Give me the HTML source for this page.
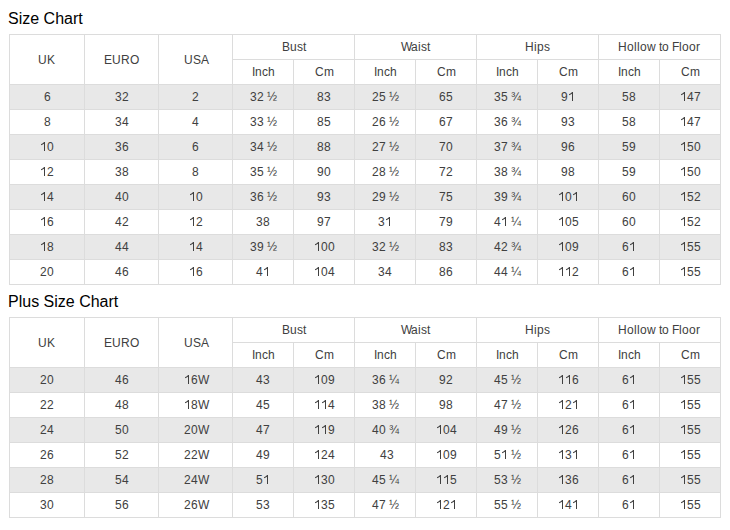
<!DOCTYPE html>
<html><head><meta charset="utf-8"><style>
html,body{margin:0;padding:0;background:#fff;width:730px;height:530px;overflow:hidden;position:relative}
div{position:absolute}
.t{font-family:"Liberation Sans",sans-serif;font-size:12px;color:#404040;white-space:nowrap;font-kerning:none}
i{display:inline-block;font-style:normal}
svg{fill:#404040;vertical-align:baseline}
.h{font-family:"Liberation Sans",sans-serif;font-size:16px;color:#000000;white-space:nowrap;left:8px;line-height:20px}
</style></head><body>
<div class="h" style="top:9px">Size Chart</div>
<div class="h" style="top:292px">Plus Size Chart</div>
<div style="left:10px;top:85px;width:710px;height:24px;background:#e8e8e8"></div><div style="left:10px;top:135px;width:710px;height:24px;background:#e8e8e8"></div><div style="left:10px;top:185px;width:710px;height:24px;background:#e8e8e8"></div><div style="left:10px;top:235px;width:710px;height:24px;background:#e8e8e8"></div><div style="left:9px;top:34px;width:712px;height:1px;background:#dcdcdc"></div><div style="left:232px;top:59px;width:489px;height:1px;background:#dcdcdc"></div><div style="left:9px;top:84px;width:712px;height:1px;background:#dcdcdc"></div><div style="left:9px;top:109px;width:712px;height:1px;background:#dcdcdc"></div><div style="left:9px;top:134px;width:712px;height:1px;background:#dcdcdc"></div><div style="left:9px;top:159px;width:712px;height:1px;background:#dcdcdc"></div><div style="left:9px;top:184px;width:712px;height:1px;background:#dcdcdc"></div><div style="left:9px;top:209px;width:712px;height:1px;background:#dcdcdc"></div><div style="left:9px;top:234px;width:712px;height:1px;background:#dcdcdc"></div><div style="left:9px;top:259px;width:712px;height:1px;background:#dcdcdc"></div><div style="left:9px;top:284px;width:712px;height:1px;background:#dcdcdc"></div><div style="left:9px;top:34px;width:1px;height:251px;background:#dcdcdc"></div><div style="left:84px;top:34px;width:1px;height:251px;background:#dcdcdc"></div><div style="left:158px;top:34px;width:1px;height:251px;background:#dcdcdc"></div><div style="left:232px;top:34px;width:1px;height:251px;background:#dcdcdc"></div><div style="left:293px;top:59px;width:1px;height:226px;background:#dcdcdc"></div><div style="left:354px;top:34px;width:1px;height:251px;background:#dcdcdc"></div><div style="left:415px;top:59px;width:1px;height:226px;background:#dcdcdc"></div><div style="left:476px;top:34px;width:1px;height:251px;background:#dcdcdc"></div><div style="left:537px;top:59px;width:1px;height:226px;background:#dcdcdc"></div><div style="left:598px;top:34px;width:1px;height:251px;background:#dcdcdc"></div><div style="left:659px;top:59px;width:1px;height:226px;background:#dcdcdc"></div><div style="left:720px;top:34px;width:1px;height:251px;background:#dcdcdc"></div><div class="t" style="left:38px;top:36px;height:49px;line-height:49px"><i style="width:9px">U</i><i style="width:9px">K</i></div><div class="t" style="left:104px;top:36px;height:49px;line-height:49px"><i style="width:8px">E</i><i style="width:9px">U</i><i style="width:9px">R</i><i style="width:9px">O</i></div><div class="t" style="left:184px;top:36px;height:49px;line-height:49px"><i style="width:9px">U</i><i style="width:8px">S</i><i style="width:8px">A</i></div><div class="t" style="left:282px;top:35px;height:24px;line-height:24px"><i style="width:8px">B</i><i style="width:7px">u</i><i style="width:6px">s</i><i style="width:3px">t</i></div><div class="t" style="left:252px;top:60px;height:24px;line-height:24px"><i style="width:3px">I</i><i style="width:7px">n</i><i style="width:6px">c</i><i style="width:7px">h</i></div><div class="t" style="left:315px;top:60px;height:24px;line-height:24px"><i style="width:9px">C</i><i style="width:10px">m</i></div><div class="t" style="left:401px;top:35px;height:24px;line-height:24px"><i style="width:10px">W</i><i style="width:7px">a</i><i style="width:3px">i</i><i style="width:6px">s</i><i style="width:3px">t</i></div><div class="t" style="left:374px;top:60px;height:24px;line-height:24px"><i style="width:3px">I</i><i style="width:7px">n</i><i style="width:6px">c</i><i style="width:7px">h</i></div><div class="t" style="left:437px;top:60px;height:24px;line-height:24px"><i style="width:9px">C</i><i style="width:10px">m</i></div><div class="t" style="left:525px;top:35px;height:24px;line-height:24px"><i style="width:9px">H</i><i style="width:3px">i</i><i style="width:7px">p</i><i style="width:6px">s</i></div><div class="t" style="left:496px;top:60px;height:24px;line-height:24px"><i style="width:3px">I</i><i style="width:7px">n</i><i style="width:6px">c</i><i style="width:7px">h</i></div><div class="t" style="left:559px;top:60px;height:24px;line-height:24px"><i style="width:9px">C</i><i style="width:10px">m</i></div><div class="t" style="left:618px;top:35px;height:24px;line-height:24px"><i style="width:9px">H</i><i style="width:7px">o</i><i style="width:3px">l</i><i style="width:3px">l</i><i style="width:7px">o</i><i style="width:9px">w</i><i style="width:3px">&nbsp;</i><i style="width:3px">t</i><i style="width:7px">o</i><i style="width:3px">&nbsp;</i><i style="width:7px">F</i><i style="width:3px">l</i><i style="width:7px">o</i><i style="width:7px">o</i><i style="width:4px">r</i></div><div class="t" style="left:618px;top:60px;height:24px;line-height:24px"><i style="width:3px">I</i><i style="width:7px">n</i><i style="width:6px">c</i><i style="width:7px">h</i></div><div class="t" style="left:681px;top:60px;height:24px;line-height:24px"><i style="width:9px">C</i><i style="width:10px">m</i></div><div class="t" style="left:44px;top:85px;height:24px;line-height:24px"><i style="width:7px">6</i></div><div class="t" style="left:115px;top:85px;height:24px;line-height:24px"><i style="width:7px">3</i><i style="width:7px">2</i></div><div class="t" style="left:192px;top:85px;height:24px;line-height:24px"><i style="width:7px">2</i></div><div class="t" style="left:250px;top:85px;height:24px;line-height:24px"><i style="width:7px">3</i><i style="width:7px">2</i><i style="width:3px">&nbsp;</i><i style="width:10px">½</i></div><div class="t" style="left:317px;top:85px;height:24px;line-height:24px"><i style="width:7px">8</i><i style="width:7px">3</i></div><div class="t" style="left:372px;top:85px;height:24px;line-height:24px"><i style="width:7px">2</i><i style="width:7px">5</i><i style="width:3px">&nbsp;</i><i style="width:10px">½</i></div><div class="t" style="left:439px;top:85px;height:24px;line-height:24px"><i style="width:7px">6</i><i style="width:7px">5</i></div><div class="t" style="left:494px;top:85px;height:24px;line-height:24px"><i style="width:7px">3</i><i style="width:7px">5</i><i style="width:3px">&nbsp;</i><i style="width:10px">¾</i></div><div class="t" style="left:561px;top:85px;height:24px;line-height:24px"><i style="width:7px">9</i><i style="width:7px"><svg width="7" height="10" viewBox="0 -1707 1195 1707"><path transform="scale(1,-1)" d="M854 0H683V1250Q520 1110 171 990V1160Q520 1300 700 1536H854Z"/></svg></i></div><div class="t" style="left:622px;top:85px;height:24px;line-height:24px"><i style="width:7px">5</i><i style="width:7px">8</i></div><div class="t" style="left:680px;top:85px;height:24px;line-height:24px"><i style="width:7px"><svg width="7" height="10" viewBox="0 -1707 1195 1707"><path transform="scale(1,-1)" d="M854 0H683V1250Q520 1110 171 990V1160Q520 1300 700 1536H854Z"/></svg></i><i style="width:7px">4</i><i style="width:7px">7</i></div><div class="t" style="left:44px;top:110px;height:24px;line-height:24px"><i style="width:7px">8</i></div><div class="t" style="left:115px;top:110px;height:24px;line-height:24px"><i style="width:7px">3</i><i style="width:7px">4</i></div><div class="t" style="left:192px;top:110px;height:24px;line-height:24px"><i style="width:7px">4</i></div><div class="t" style="left:250px;top:110px;height:24px;line-height:24px"><i style="width:7px">3</i><i style="width:7px">3</i><i style="width:3px">&nbsp;</i><i style="width:10px">½</i></div><div class="t" style="left:317px;top:110px;height:24px;line-height:24px"><i style="width:7px">8</i><i style="width:7px">5</i></div><div class="t" style="left:372px;top:110px;height:24px;line-height:24px"><i style="width:7px">2</i><i style="width:7px">6</i><i style="width:3px">&nbsp;</i><i style="width:10px">½</i></div><div class="t" style="left:439px;top:110px;height:24px;line-height:24px"><i style="width:7px">6</i><i style="width:7px">7</i></div><div class="t" style="left:494px;top:110px;height:24px;line-height:24px"><i style="width:7px">3</i><i style="width:7px">6</i><i style="width:3px">&nbsp;</i><i style="width:10px">¾</i></div><div class="t" style="left:561px;top:110px;height:24px;line-height:24px"><i style="width:7px">9</i><i style="width:7px">3</i></div><div class="t" style="left:622px;top:110px;height:24px;line-height:24px"><i style="width:7px">5</i><i style="width:7px">8</i></div><div class="t" style="left:680px;top:110px;height:24px;line-height:24px"><i style="width:7px"><svg width="7" height="10" viewBox="0 -1707 1195 1707"><path transform="scale(1,-1)" d="M854 0H683V1250Q520 1110 171 990V1160Q520 1300 700 1536H854Z"/></svg></i><i style="width:7px">4</i><i style="width:7px">7</i></div><div class="t" style="left:40px;top:135px;height:24px;line-height:24px"><i style="width:7px"><svg width="7" height="10" viewBox="0 -1707 1195 1707"><path transform="scale(1,-1)" d="M854 0H683V1250Q520 1110 171 990V1160Q520 1300 700 1536H854Z"/></svg></i><i style="width:7px">0</i></div><div class="t" style="left:115px;top:135px;height:24px;line-height:24px"><i style="width:7px">3</i><i style="width:7px">6</i></div><div class="t" style="left:192px;top:135px;height:24px;line-height:24px"><i style="width:7px">6</i></div><div class="t" style="left:250px;top:135px;height:24px;line-height:24px"><i style="width:7px">3</i><i style="width:7px">4</i><i style="width:3px">&nbsp;</i><i style="width:10px">½</i></div><div class="t" style="left:317px;top:135px;height:24px;line-height:24px"><i style="width:7px">8</i><i style="width:7px">8</i></div><div class="t" style="left:372px;top:135px;height:24px;line-height:24px"><i style="width:7px">2</i><i style="width:7px">7</i><i style="width:3px">&nbsp;</i><i style="width:10px">½</i></div><div class="t" style="left:439px;top:135px;height:24px;line-height:24px"><i style="width:7px">7</i><i style="width:7px">0</i></div><div class="t" style="left:494px;top:135px;height:24px;line-height:24px"><i style="width:7px">3</i><i style="width:7px">7</i><i style="width:3px">&nbsp;</i><i style="width:10px">¾</i></div><div class="t" style="left:561px;top:135px;height:24px;line-height:24px"><i style="width:7px">9</i><i style="width:7px">6</i></div><div class="t" style="left:622px;top:135px;height:24px;line-height:24px"><i style="width:7px">5</i><i style="width:7px">9</i></div><div class="t" style="left:680px;top:135px;height:24px;line-height:24px"><i style="width:7px"><svg width="7" height="10" viewBox="0 -1707 1195 1707"><path transform="scale(1,-1)" d="M854 0H683V1250Q520 1110 171 990V1160Q520 1300 700 1536H854Z"/></svg></i><i style="width:7px">5</i><i style="width:7px">0</i></div><div class="t" style="left:40px;top:160px;height:24px;line-height:24px"><i style="width:7px"><svg width="7" height="10" viewBox="0 -1707 1195 1707"><path transform="scale(1,-1)" d="M854 0H683V1250Q520 1110 171 990V1160Q520 1300 700 1536H854Z"/></svg></i><i style="width:7px">2</i></div><div class="t" style="left:115px;top:160px;height:24px;line-height:24px"><i style="width:7px">3</i><i style="width:7px">8</i></div><div class="t" style="left:192px;top:160px;height:24px;line-height:24px"><i style="width:7px">8</i></div><div class="t" style="left:250px;top:160px;height:24px;line-height:24px"><i style="width:7px">3</i><i style="width:7px">5</i><i style="width:3px">&nbsp;</i><i style="width:10px">½</i></div><div class="t" style="left:317px;top:160px;height:24px;line-height:24px"><i style="width:7px">9</i><i style="width:7px">0</i></div><div class="t" style="left:372px;top:160px;height:24px;line-height:24px"><i style="width:7px">2</i><i style="width:7px">8</i><i style="width:3px">&nbsp;</i><i style="width:10px">½</i></div><div class="t" style="left:439px;top:160px;height:24px;line-height:24px"><i style="width:7px">7</i><i style="width:7px">2</i></div><div class="t" style="left:494px;top:160px;height:24px;line-height:24px"><i style="width:7px">3</i><i style="width:7px">8</i><i style="width:3px">&nbsp;</i><i style="width:10px">¾</i></div><div class="t" style="left:561px;top:160px;height:24px;line-height:24px"><i style="width:7px">9</i><i style="width:7px">8</i></div><div class="t" style="left:622px;top:160px;height:24px;line-height:24px"><i style="width:7px">5</i><i style="width:7px">9</i></div><div class="t" style="left:680px;top:160px;height:24px;line-height:24px"><i style="width:7px"><svg width="7" height="10" viewBox="0 -1707 1195 1707"><path transform="scale(1,-1)" d="M854 0H683V1250Q520 1110 171 990V1160Q520 1300 700 1536H854Z"/></svg></i><i style="width:7px">5</i><i style="width:7px">0</i></div><div class="t" style="left:40px;top:185px;height:24px;line-height:24px"><i style="width:7px"><svg width="7" height="10" viewBox="0 -1707 1195 1707"><path transform="scale(1,-1)" d="M854 0H683V1250Q520 1110 171 990V1160Q520 1300 700 1536H854Z"/></svg></i><i style="width:7px">4</i></div><div class="t" style="left:115px;top:185px;height:24px;line-height:24px"><i style="width:7px">4</i><i style="width:7px">0</i></div><div class="t" style="left:189px;top:185px;height:24px;line-height:24px"><i style="width:7px"><svg width="7" height="10" viewBox="0 -1707 1195 1707"><path transform="scale(1,-1)" d="M854 0H683V1250Q520 1110 171 990V1160Q520 1300 700 1536H854Z"/></svg></i><i style="width:7px">0</i></div><div class="t" style="left:250px;top:185px;height:24px;line-height:24px"><i style="width:7px">3</i><i style="width:7px">6</i><i style="width:3px">&nbsp;</i><i style="width:10px">½</i></div><div class="t" style="left:317px;top:185px;height:24px;line-height:24px"><i style="width:7px">9</i><i style="width:7px">3</i></div><div class="t" style="left:372px;top:185px;height:24px;line-height:24px"><i style="width:7px">2</i><i style="width:7px">9</i><i style="width:3px">&nbsp;</i><i style="width:10px">½</i></div><div class="t" style="left:439px;top:185px;height:24px;line-height:24px"><i style="width:7px">7</i><i style="width:7px">5</i></div><div class="t" style="left:494px;top:185px;height:24px;line-height:24px"><i style="width:7px">3</i><i style="width:7px">9</i><i style="width:3px">&nbsp;</i><i style="width:10px">¾</i></div><div class="t" style="left:558px;top:185px;height:24px;line-height:24px"><i style="width:7px"><svg width="7" height="10" viewBox="0 -1707 1195 1707"><path transform="scale(1,-1)" d="M854 0H683V1250Q520 1110 171 990V1160Q520 1300 700 1536H854Z"/></svg></i><i style="width:7px">0</i><i style="width:7px"><svg width="7" height="10" viewBox="0 -1707 1195 1707"><path transform="scale(1,-1)" d="M854 0H683V1250Q520 1110 171 990V1160Q520 1300 700 1536H854Z"/></svg></i></div><div class="t" style="left:622px;top:185px;height:24px;line-height:24px"><i style="width:7px">6</i><i style="width:7px">0</i></div><div class="t" style="left:680px;top:185px;height:24px;line-height:24px"><i style="width:7px"><svg width="7" height="10" viewBox="0 -1707 1195 1707"><path transform="scale(1,-1)" d="M854 0H683V1250Q520 1110 171 990V1160Q520 1300 700 1536H854Z"/></svg></i><i style="width:7px">5</i><i style="width:7px">2</i></div><div class="t" style="left:40px;top:210px;height:24px;line-height:24px"><i style="width:7px"><svg width="7" height="10" viewBox="0 -1707 1195 1707"><path transform="scale(1,-1)" d="M854 0H683V1250Q520 1110 171 990V1160Q520 1300 700 1536H854Z"/></svg></i><i style="width:7px">6</i></div><div class="t" style="left:115px;top:210px;height:24px;line-height:24px"><i style="width:7px">4</i><i style="width:7px">2</i></div><div class="t" style="left:189px;top:210px;height:24px;line-height:24px"><i style="width:7px"><svg width="7" height="10" viewBox="0 -1707 1195 1707"><path transform="scale(1,-1)" d="M854 0H683V1250Q520 1110 171 990V1160Q520 1300 700 1536H854Z"/></svg></i><i style="width:7px">2</i></div><div class="t" style="left:256px;top:210px;height:24px;line-height:24px"><i style="width:7px">3</i><i style="width:7px">8</i></div><div class="t" style="left:317px;top:210px;height:24px;line-height:24px"><i style="width:7px">9</i><i style="width:7px">7</i></div><div class="t" style="left:378px;top:210px;height:24px;line-height:24px"><i style="width:7px">3</i><i style="width:7px"><svg width="7" height="10" viewBox="0 -1707 1195 1707"><path transform="scale(1,-1)" d="M854 0H683V1250Q520 1110 171 990V1160Q520 1300 700 1536H854Z"/></svg></i></div><div class="t" style="left:439px;top:210px;height:24px;line-height:24px"><i style="width:7px">7</i><i style="width:7px">9</i></div><div class="t" style="left:494px;top:210px;height:24px;line-height:24px"><i style="width:7px">4</i><i style="width:7px"><svg width="7" height="10" viewBox="0 -1707 1195 1707"><path transform="scale(1,-1)" d="M854 0H683V1250Q520 1110 171 990V1160Q520 1300 700 1536H854Z"/></svg></i><i style="width:3px">&nbsp;</i><i style="width:10px">¼</i></div><div class="t" style="left:558px;top:210px;height:24px;line-height:24px"><i style="width:7px"><svg width="7" height="10" viewBox="0 -1707 1195 1707"><path transform="scale(1,-1)" d="M854 0H683V1250Q520 1110 171 990V1160Q520 1300 700 1536H854Z"/></svg></i><i style="width:7px">0</i><i style="width:7px">5</i></div><div class="t" style="left:622px;top:210px;height:24px;line-height:24px"><i style="width:7px">6</i><i style="width:7px">0</i></div><div class="t" style="left:680px;top:210px;height:24px;line-height:24px"><i style="width:7px"><svg width="7" height="10" viewBox="0 -1707 1195 1707"><path transform="scale(1,-1)" d="M854 0H683V1250Q520 1110 171 990V1160Q520 1300 700 1536H854Z"/></svg></i><i style="width:7px">5</i><i style="width:7px">2</i></div><div class="t" style="left:40px;top:235px;height:24px;line-height:24px"><i style="width:7px"><svg width="7" height="10" viewBox="0 -1707 1195 1707"><path transform="scale(1,-1)" d="M854 0H683V1250Q520 1110 171 990V1160Q520 1300 700 1536H854Z"/></svg></i><i style="width:7px">8</i></div><div class="t" style="left:115px;top:235px;height:24px;line-height:24px"><i style="width:7px">4</i><i style="width:7px">4</i></div><div class="t" style="left:189px;top:235px;height:24px;line-height:24px"><i style="width:7px"><svg width="7" height="10" viewBox="0 -1707 1195 1707"><path transform="scale(1,-1)" d="M854 0H683V1250Q520 1110 171 990V1160Q520 1300 700 1536H854Z"/></svg></i><i style="width:7px">4</i></div><div class="t" style="left:250px;top:235px;height:24px;line-height:24px"><i style="width:7px">3</i><i style="width:7px">9</i><i style="width:3px">&nbsp;</i><i style="width:10px">½</i></div><div class="t" style="left:314px;top:235px;height:24px;line-height:24px"><i style="width:7px"><svg width="7" height="10" viewBox="0 -1707 1195 1707"><path transform="scale(1,-1)" d="M854 0H683V1250Q520 1110 171 990V1160Q520 1300 700 1536H854Z"/></svg></i><i style="width:7px">0</i><i style="width:7px">0</i></div><div class="t" style="left:372px;top:235px;height:24px;line-height:24px"><i style="width:7px">3</i><i style="width:7px">2</i><i style="width:3px">&nbsp;</i><i style="width:10px">½</i></div><div class="t" style="left:439px;top:235px;height:24px;line-height:24px"><i style="width:7px">8</i><i style="width:7px">3</i></div><div class="t" style="left:494px;top:235px;height:24px;line-height:24px"><i style="width:7px">4</i><i style="width:7px">2</i><i style="width:3px">&nbsp;</i><i style="width:10px">¾</i></div><div class="t" style="left:558px;top:235px;height:24px;line-height:24px"><i style="width:7px"><svg width="7" height="10" viewBox="0 -1707 1195 1707"><path transform="scale(1,-1)" d="M854 0H683V1250Q520 1110 171 990V1160Q520 1300 700 1536H854Z"/></svg></i><i style="width:7px">0</i><i style="width:7px">9</i></div><div class="t" style="left:622px;top:235px;height:24px;line-height:24px"><i style="width:7px">6</i><i style="width:7px"><svg width="7" height="10" viewBox="0 -1707 1195 1707"><path transform="scale(1,-1)" d="M854 0H683V1250Q520 1110 171 990V1160Q520 1300 700 1536H854Z"/></svg></i></div><div class="t" style="left:680px;top:235px;height:24px;line-height:24px"><i style="width:7px"><svg width="7" height="10" viewBox="0 -1707 1195 1707"><path transform="scale(1,-1)" d="M854 0H683V1250Q520 1110 171 990V1160Q520 1300 700 1536H854Z"/></svg></i><i style="width:7px">5</i><i style="width:7px">5</i></div><div class="t" style="left:40px;top:260px;height:24px;line-height:24px"><i style="width:7px">2</i><i style="width:7px">0</i></div><div class="t" style="left:115px;top:260px;height:24px;line-height:24px"><i style="width:7px">4</i><i style="width:7px">6</i></div><div class="t" style="left:189px;top:260px;height:24px;line-height:24px"><i style="width:7px"><svg width="7" height="10" viewBox="0 -1707 1195 1707"><path transform="scale(1,-1)" d="M854 0H683V1250Q520 1110 171 990V1160Q520 1300 700 1536H854Z"/></svg></i><i style="width:7px">6</i></div><div class="t" style="left:256px;top:260px;height:24px;line-height:24px"><i style="width:7px">4</i><i style="width:7px"><svg width="7" height="10" viewBox="0 -1707 1195 1707"><path transform="scale(1,-1)" d="M854 0H683V1250Q520 1110 171 990V1160Q520 1300 700 1536H854Z"/></svg></i></div><div class="t" style="left:314px;top:260px;height:24px;line-height:24px"><i style="width:7px"><svg width="7" height="10" viewBox="0 -1707 1195 1707"><path transform="scale(1,-1)" d="M854 0H683V1250Q520 1110 171 990V1160Q520 1300 700 1536H854Z"/></svg></i><i style="width:7px">0</i><i style="width:7px">4</i></div><div class="t" style="left:378px;top:260px;height:24px;line-height:24px"><i style="width:7px">3</i><i style="width:7px">4</i></div><div class="t" style="left:439px;top:260px;height:24px;line-height:24px"><i style="width:7px">8</i><i style="width:7px">6</i></div><div class="t" style="left:494px;top:260px;height:24px;line-height:24px"><i style="width:7px">4</i><i style="width:7px">4</i><i style="width:3px">&nbsp;</i><i style="width:10px">¼</i></div><div class="t" style="left:558px;top:260px;height:24px;line-height:24px"><i style="width:7px"><svg width="7" height="10" viewBox="0 -1707 1195 1707"><path transform="scale(1,-1)" d="M854 0H683V1250Q520 1110 171 990V1160Q520 1300 700 1536H854Z"/></svg></i><i style="width:7px"><svg width="7" height="10" viewBox="0 -1707 1195 1707"><path transform="scale(1,-1)" d="M854 0H683V1250Q520 1110 171 990V1160Q520 1300 700 1536H854Z"/></svg></i><i style="width:7px">2</i></div><div class="t" style="left:622px;top:260px;height:24px;line-height:24px"><i style="width:7px">6</i><i style="width:7px"><svg width="7" height="10" viewBox="0 -1707 1195 1707"><path transform="scale(1,-1)" d="M854 0H683V1250Q520 1110 171 990V1160Q520 1300 700 1536H854Z"/></svg></i></div><div class="t" style="left:680px;top:260px;height:24px;line-height:24px"><i style="width:7px"><svg width="7" height="10" viewBox="0 -1707 1195 1707"><path transform="scale(1,-1)" d="M854 0H683V1250Q520 1110 171 990V1160Q520 1300 700 1536H854Z"/></svg></i><i style="width:7px">5</i><i style="width:7px">5</i></div><div style="left:10px;top:368px;width:710px;height:24px;background:#e8e8e8"></div><div style="left:10px;top:418px;width:710px;height:24px;background:#e8e8e8"></div><div style="left:10px;top:468px;width:710px;height:24px;background:#e8e8e8"></div><div style="left:9px;top:317px;width:712px;height:1px;background:#dcdcdc"></div><div style="left:232px;top:342px;width:489px;height:1px;background:#dcdcdc"></div><div style="left:9px;top:367px;width:712px;height:1px;background:#dcdcdc"></div><div style="left:9px;top:392px;width:712px;height:1px;background:#dcdcdc"></div><div style="left:9px;top:417px;width:712px;height:1px;background:#dcdcdc"></div><div style="left:9px;top:442px;width:712px;height:1px;background:#dcdcdc"></div><div style="left:9px;top:467px;width:712px;height:1px;background:#dcdcdc"></div><div style="left:9px;top:492px;width:712px;height:1px;background:#dcdcdc"></div><div style="left:9px;top:517px;width:712px;height:1px;background:#dcdcdc"></div><div style="left:9px;top:317px;width:1px;height:201px;background:#dcdcdc"></div><div style="left:84px;top:317px;width:1px;height:201px;background:#dcdcdc"></div><div style="left:158px;top:317px;width:1px;height:201px;background:#dcdcdc"></div><div style="left:232px;top:317px;width:1px;height:201px;background:#dcdcdc"></div><div style="left:293px;top:342px;width:1px;height:176px;background:#dcdcdc"></div><div style="left:354px;top:317px;width:1px;height:201px;background:#dcdcdc"></div><div style="left:415px;top:342px;width:1px;height:176px;background:#dcdcdc"></div><div style="left:476px;top:317px;width:1px;height:201px;background:#dcdcdc"></div><div style="left:537px;top:342px;width:1px;height:176px;background:#dcdcdc"></div><div style="left:598px;top:317px;width:1px;height:201px;background:#dcdcdc"></div><div style="left:659px;top:342px;width:1px;height:176px;background:#dcdcdc"></div><div style="left:720px;top:317px;width:1px;height:201px;background:#dcdcdc"></div><div class="t" style="left:38px;top:319px;height:49px;line-height:49px"><i style="width:9px">U</i><i style="width:9px">K</i></div><div class="t" style="left:104px;top:319px;height:49px;line-height:49px"><i style="width:8px">E</i><i style="width:9px">U</i><i style="width:9px">R</i><i style="width:9px">O</i></div><div class="t" style="left:184px;top:319px;height:49px;line-height:49px"><i style="width:9px">U</i><i style="width:8px">S</i><i style="width:8px">A</i></div><div class="t" style="left:282px;top:318px;height:24px;line-height:24px"><i style="width:8px">B</i><i style="width:7px">u</i><i style="width:6px">s</i><i style="width:3px">t</i></div><div class="t" style="left:252px;top:343px;height:24px;line-height:24px"><i style="width:3px">I</i><i style="width:7px">n</i><i style="width:6px">c</i><i style="width:7px">h</i></div><div class="t" style="left:315px;top:343px;height:24px;line-height:24px"><i style="width:9px">C</i><i style="width:10px">m</i></div><div class="t" style="left:401px;top:318px;height:24px;line-height:24px"><i style="width:10px">W</i><i style="width:7px">a</i><i style="width:3px">i</i><i style="width:6px">s</i><i style="width:3px">t</i></div><div class="t" style="left:374px;top:343px;height:24px;line-height:24px"><i style="width:3px">I</i><i style="width:7px">n</i><i style="width:6px">c</i><i style="width:7px">h</i></div><div class="t" style="left:437px;top:343px;height:24px;line-height:24px"><i style="width:9px">C</i><i style="width:10px">m</i></div><div class="t" style="left:525px;top:318px;height:24px;line-height:24px"><i style="width:9px">H</i><i style="width:3px">i</i><i style="width:7px">p</i><i style="width:6px">s</i></div><div class="t" style="left:496px;top:343px;height:24px;line-height:24px"><i style="width:3px">I</i><i style="width:7px">n</i><i style="width:6px">c</i><i style="width:7px">h</i></div><div class="t" style="left:559px;top:343px;height:24px;line-height:24px"><i style="width:9px">C</i><i style="width:10px">m</i></div><div class="t" style="left:618px;top:318px;height:24px;line-height:24px"><i style="width:9px">H</i><i style="width:7px">o</i><i style="width:3px">l</i><i style="width:3px">l</i><i style="width:7px">o</i><i style="width:9px">w</i><i style="width:3px">&nbsp;</i><i style="width:3px">t</i><i style="width:7px">o</i><i style="width:3px">&nbsp;</i><i style="width:7px">F</i><i style="width:3px">l</i><i style="width:7px">o</i><i style="width:7px">o</i><i style="width:4px">r</i></div><div class="t" style="left:618px;top:343px;height:24px;line-height:24px"><i style="width:3px">I</i><i style="width:7px">n</i><i style="width:6px">c</i><i style="width:7px">h</i></div><div class="t" style="left:681px;top:343px;height:24px;line-height:24px"><i style="width:9px">C</i><i style="width:10px">m</i></div><div class="t" style="left:40px;top:368px;height:24px;line-height:24px"><i style="width:7px">2</i><i style="width:7px">0</i></div><div class="t" style="left:115px;top:368px;height:24px;line-height:24px"><i style="width:7px">4</i><i style="width:7px">6</i></div><div class="t" style="left:184px;top:368px;height:24px;line-height:24px"><i style="width:7px"><svg width="7" height="10" viewBox="0 -1707 1195 1707"><path transform="scale(1,-1)" d="M854 0H683V1250Q520 1110 171 990V1160Q520 1300 700 1536H854Z"/></svg></i><i style="width:7px">6</i><i style="width:10px">W</i></div><div class="t" style="left:256px;top:368px;height:24px;line-height:24px"><i style="width:7px">4</i><i style="width:7px">3</i></div><div class="t" style="left:314px;top:368px;height:24px;line-height:24px"><i style="width:7px"><svg width="7" height="10" viewBox="0 -1707 1195 1707"><path transform="scale(1,-1)" d="M854 0H683V1250Q520 1110 171 990V1160Q520 1300 700 1536H854Z"/></svg></i><i style="width:7px">0</i><i style="width:7px">9</i></div><div class="t" style="left:372px;top:368px;height:24px;line-height:24px"><i style="width:7px">3</i><i style="width:7px">6</i><i style="width:3px">&nbsp;</i><i style="width:10px">¼</i></div><div class="t" style="left:439px;top:368px;height:24px;line-height:24px"><i style="width:7px">9</i><i style="width:7px">2</i></div><div class="t" style="left:494px;top:368px;height:24px;line-height:24px"><i style="width:7px">4</i><i style="width:7px">5</i><i style="width:3px">&nbsp;</i><i style="width:10px">½</i></div><div class="t" style="left:558px;top:368px;height:24px;line-height:24px"><i style="width:7px"><svg width="7" height="10" viewBox="0 -1707 1195 1707"><path transform="scale(1,-1)" d="M854 0H683V1250Q520 1110 171 990V1160Q520 1300 700 1536H854Z"/></svg></i><i style="width:7px"><svg width="7" height="10" viewBox="0 -1707 1195 1707"><path transform="scale(1,-1)" d="M854 0H683V1250Q520 1110 171 990V1160Q520 1300 700 1536H854Z"/></svg></i><i style="width:7px">6</i></div><div class="t" style="left:622px;top:368px;height:24px;line-height:24px"><i style="width:7px">6</i><i style="width:7px"><svg width="7" height="10" viewBox="0 -1707 1195 1707"><path transform="scale(1,-1)" d="M854 0H683V1250Q520 1110 171 990V1160Q520 1300 700 1536H854Z"/></svg></i></div><div class="t" style="left:680px;top:368px;height:24px;line-height:24px"><i style="width:7px"><svg width="7" height="10" viewBox="0 -1707 1195 1707"><path transform="scale(1,-1)" d="M854 0H683V1250Q520 1110 171 990V1160Q520 1300 700 1536H854Z"/></svg></i><i style="width:7px">5</i><i style="width:7px">5</i></div><div class="t" style="left:40px;top:393px;height:24px;line-height:24px"><i style="width:7px">2</i><i style="width:7px">2</i></div><div class="t" style="left:115px;top:393px;height:24px;line-height:24px"><i style="width:7px">4</i><i style="width:7px">8</i></div><div class="t" style="left:184px;top:393px;height:24px;line-height:24px"><i style="width:7px"><svg width="7" height="10" viewBox="0 -1707 1195 1707"><path transform="scale(1,-1)" d="M854 0H683V1250Q520 1110 171 990V1160Q520 1300 700 1536H854Z"/></svg></i><i style="width:7px">8</i><i style="width:10px">W</i></div><div class="t" style="left:256px;top:393px;height:24px;line-height:24px"><i style="width:7px">4</i><i style="width:7px">5</i></div><div class="t" style="left:314px;top:393px;height:24px;line-height:24px"><i style="width:7px"><svg width="7" height="10" viewBox="0 -1707 1195 1707"><path transform="scale(1,-1)" d="M854 0H683V1250Q520 1110 171 990V1160Q520 1300 700 1536H854Z"/></svg></i><i style="width:7px"><svg width="7" height="10" viewBox="0 -1707 1195 1707"><path transform="scale(1,-1)" d="M854 0H683V1250Q520 1110 171 990V1160Q520 1300 700 1536H854Z"/></svg></i><i style="width:7px">4</i></div><div class="t" style="left:372px;top:393px;height:24px;line-height:24px"><i style="width:7px">3</i><i style="width:7px">8</i><i style="width:3px">&nbsp;</i><i style="width:10px">½</i></div><div class="t" style="left:439px;top:393px;height:24px;line-height:24px"><i style="width:7px">9</i><i style="width:7px">8</i></div><div class="t" style="left:494px;top:393px;height:24px;line-height:24px"><i style="width:7px">4</i><i style="width:7px">7</i><i style="width:3px">&nbsp;</i><i style="width:10px">½</i></div><div class="t" style="left:558px;top:393px;height:24px;line-height:24px"><i style="width:7px"><svg width="7" height="10" viewBox="0 -1707 1195 1707"><path transform="scale(1,-1)" d="M854 0H683V1250Q520 1110 171 990V1160Q520 1300 700 1536H854Z"/></svg></i><i style="width:7px">2</i><i style="width:7px"><svg width="7" height="10" viewBox="0 -1707 1195 1707"><path transform="scale(1,-1)" d="M854 0H683V1250Q520 1110 171 990V1160Q520 1300 700 1536H854Z"/></svg></i></div><div class="t" style="left:622px;top:393px;height:24px;line-height:24px"><i style="width:7px">6</i><i style="width:7px"><svg width="7" height="10" viewBox="0 -1707 1195 1707"><path transform="scale(1,-1)" d="M854 0H683V1250Q520 1110 171 990V1160Q520 1300 700 1536H854Z"/></svg></i></div><div class="t" style="left:680px;top:393px;height:24px;line-height:24px"><i style="width:7px"><svg width="7" height="10" viewBox="0 -1707 1195 1707"><path transform="scale(1,-1)" d="M854 0H683V1250Q520 1110 171 990V1160Q520 1300 700 1536H854Z"/></svg></i><i style="width:7px">5</i><i style="width:7px">5</i></div><div class="t" style="left:40px;top:418px;height:24px;line-height:24px"><i style="width:7px">2</i><i style="width:7px">4</i></div><div class="t" style="left:115px;top:418px;height:24px;line-height:24px"><i style="width:7px">5</i><i style="width:7px">0</i></div><div class="t" style="left:184px;top:418px;height:24px;line-height:24px"><i style="width:7px">2</i><i style="width:7px">0</i><i style="width:10px">W</i></div><div class="t" style="left:256px;top:418px;height:24px;line-height:24px"><i style="width:7px">4</i><i style="width:7px">7</i></div><div class="t" style="left:314px;top:418px;height:24px;line-height:24px"><i style="width:7px"><svg width="7" height="10" viewBox="0 -1707 1195 1707"><path transform="scale(1,-1)" d="M854 0H683V1250Q520 1110 171 990V1160Q520 1300 700 1536H854Z"/></svg></i><i style="width:7px"><svg width="7" height="10" viewBox="0 -1707 1195 1707"><path transform="scale(1,-1)" d="M854 0H683V1250Q520 1110 171 990V1160Q520 1300 700 1536H854Z"/></svg></i><i style="width:7px">9</i></div><div class="t" style="left:372px;top:418px;height:24px;line-height:24px"><i style="width:7px">4</i><i style="width:7px">0</i><i style="width:3px">&nbsp;</i><i style="width:10px">¾</i></div><div class="t" style="left:436px;top:418px;height:24px;line-height:24px"><i style="width:7px"><svg width="7" height="10" viewBox="0 -1707 1195 1707"><path transform="scale(1,-1)" d="M854 0H683V1250Q520 1110 171 990V1160Q520 1300 700 1536H854Z"/></svg></i><i style="width:7px">0</i><i style="width:7px">4</i></div><div class="t" style="left:494px;top:418px;height:24px;line-height:24px"><i style="width:7px">4</i><i style="width:7px">9</i><i style="width:3px">&nbsp;</i><i style="width:10px">½</i></div><div class="t" style="left:558px;top:418px;height:24px;line-height:24px"><i style="width:7px"><svg width="7" height="10" viewBox="0 -1707 1195 1707"><path transform="scale(1,-1)" d="M854 0H683V1250Q520 1110 171 990V1160Q520 1300 700 1536H854Z"/></svg></i><i style="width:7px">2</i><i style="width:7px">6</i></div><div class="t" style="left:622px;top:418px;height:24px;line-height:24px"><i style="width:7px">6</i><i style="width:7px"><svg width="7" height="10" viewBox="0 -1707 1195 1707"><path transform="scale(1,-1)" d="M854 0H683V1250Q520 1110 171 990V1160Q520 1300 700 1536H854Z"/></svg></i></div><div class="t" style="left:680px;top:418px;height:24px;line-height:24px"><i style="width:7px"><svg width="7" height="10" viewBox="0 -1707 1195 1707"><path transform="scale(1,-1)" d="M854 0H683V1250Q520 1110 171 990V1160Q520 1300 700 1536H854Z"/></svg></i><i style="width:7px">5</i><i style="width:7px">5</i></div><div class="t" style="left:40px;top:443px;height:24px;line-height:24px"><i style="width:7px">2</i><i style="width:7px">6</i></div><div class="t" style="left:115px;top:443px;height:24px;line-height:24px"><i style="width:7px">5</i><i style="width:7px">2</i></div><div class="t" style="left:184px;top:443px;height:24px;line-height:24px"><i style="width:7px">2</i><i style="width:7px">2</i><i style="width:10px">W</i></div><div class="t" style="left:256px;top:443px;height:24px;line-height:24px"><i style="width:7px">4</i><i style="width:7px">9</i></div><div class="t" style="left:314px;top:443px;height:24px;line-height:24px"><i style="width:7px"><svg width="7" height="10" viewBox="0 -1707 1195 1707"><path transform="scale(1,-1)" d="M854 0H683V1250Q520 1110 171 990V1160Q520 1300 700 1536H854Z"/></svg></i><i style="width:7px">2</i><i style="width:7px">4</i></div><div class="t" style="left:377px;top:443px;height:24px;line-height:24px"><i style="width:3px">&nbsp;</i><i style="width:7px">4</i><i style="width:7px">3</i></div><div class="t" style="left:436px;top:443px;height:24px;line-height:24px"><i style="width:7px"><svg width="7" height="10" viewBox="0 -1707 1195 1707"><path transform="scale(1,-1)" d="M854 0H683V1250Q520 1110 171 990V1160Q520 1300 700 1536H854Z"/></svg></i><i style="width:7px">0</i><i style="width:7px">9</i></div><div class="t" style="left:494px;top:443px;height:24px;line-height:24px"><i style="width:7px">5</i><i style="width:7px"><svg width="7" height="10" viewBox="0 -1707 1195 1707"><path transform="scale(1,-1)" d="M854 0H683V1250Q520 1110 171 990V1160Q520 1300 700 1536H854Z"/></svg></i><i style="width:3px">&nbsp;</i><i style="width:10px">½</i></div><div class="t" style="left:558px;top:443px;height:24px;line-height:24px"><i style="width:7px"><svg width="7" height="10" viewBox="0 -1707 1195 1707"><path transform="scale(1,-1)" d="M854 0H683V1250Q520 1110 171 990V1160Q520 1300 700 1536H854Z"/></svg></i><i style="width:7px">3</i><i style="width:7px"><svg width="7" height="10" viewBox="0 -1707 1195 1707"><path transform="scale(1,-1)" d="M854 0H683V1250Q520 1110 171 990V1160Q520 1300 700 1536H854Z"/></svg></i></div><div class="t" style="left:622px;top:443px;height:24px;line-height:24px"><i style="width:7px">6</i><i style="width:7px"><svg width="7" height="10" viewBox="0 -1707 1195 1707"><path transform="scale(1,-1)" d="M854 0H683V1250Q520 1110 171 990V1160Q520 1300 700 1536H854Z"/></svg></i></div><div class="t" style="left:680px;top:443px;height:24px;line-height:24px"><i style="width:7px"><svg width="7" height="10" viewBox="0 -1707 1195 1707"><path transform="scale(1,-1)" d="M854 0H683V1250Q520 1110 171 990V1160Q520 1300 700 1536H854Z"/></svg></i><i style="width:7px">5</i><i style="width:7px">5</i></div><div class="t" style="left:40px;top:468px;height:24px;line-height:24px"><i style="width:7px">2</i><i style="width:7px">8</i></div><div class="t" style="left:115px;top:468px;height:24px;line-height:24px"><i style="width:7px">5</i><i style="width:7px">4</i></div><div class="t" style="left:184px;top:468px;height:24px;line-height:24px"><i style="width:7px">2</i><i style="width:7px">4</i><i style="width:10px">W</i></div><div class="t" style="left:256px;top:468px;height:24px;line-height:24px"><i style="width:7px">5</i><i style="width:7px"><svg width="7" height="10" viewBox="0 -1707 1195 1707"><path transform="scale(1,-1)" d="M854 0H683V1250Q520 1110 171 990V1160Q520 1300 700 1536H854Z"/></svg></i></div><div class="t" style="left:314px;top:468px;height:24px;line-height:24px"><i style="width:7px"><svg width="7" height="10" viewBox="0 -1707 1195 1707"><path transform="scale(1,-1)" d="M854 0H683V1250Q520 1110 171 990V1160Q520 1300 700 1536H854Z"/></svg></i><i style="width:7px">3</i><i style="width:7px">0</i></div><div class="t" style="left:372px;top:468px;height:24px;line-height:24px"><i style="width:7px">4</i><i style="width:7px">5</i><i style="width:3px">&nbsp;</i><i style="width:10px">¼</i></div><div class="t" style="left:436px;top:468px;height:24px;line-height:24px"><i style="width:7px"><svg width="7" height="10" viewBox="0 -1707 1195 1707"><path transform="scale(1,-1)" d="M854 0H683V1250Q520 1110 171 990V1160Q520 1300 700 1536H854Z"/></svg></i><i style="width:7px"><svg width="7" height="10" viewBox="0 -1707 1195 1707"><path transform="scale(1,-1)" d="M854 0H683V1250Q520 1110 171 990V1160Q520 1300 700 1536H854Z"/></svg></i><i style="width:7px">5</i></div><div class="t" style="left:494px;top:468px;height:24px;line-height:24px"><i style="width:7px">5</i><i style="width:7px">3</i><i style="width:3px">&nbsp;</i><i style="width:10px">½</i></div><div class="t" style="left:558px;top:468px;height:24px;line-height:24px"><i style="width:7px"><svg width="7" height="10" viewBox="0 -1707 1195 1707"><path transform="scale(1,-1)" d="M854 0H683V1250Q520 1110 171 990V1160Q520 1300 700 1536H854Z"/></svg></i><i style="width:7px">3</i><i style="width:7px">6</i></div><div class="t" style="left:622px;top:468px;height:24px;line-height:24px"><i style="width:7px">6</i><i style="width:7px"><svg width="7" height="10" viewBox="0 -1707 1195 1707"><path transform="scale(1,-1)" d="M854 0H683V1250Q520 1110 171 990V1160Q520 1300 700 1536H854Z"/></svg></i></div><div class="t" style="left:680px;top:468px;height:24px;line-height:24px"><i style="width:7px"><svg width="7" height="10" viewBox="0 -1707 1195 1707"><path transform="scale(1,-1)" d="M854 0H683V1250Q520 1110 171 990V1160Q520 1300 700 1536H854Z"/></svg></i><i style="width:7px">5</i><i style="width:7px">5</i></div><div class="t" style="left:40px;top:493px;height:24px;line-height:24px"><i style="width:7px">3</i><i style="width:7px">0</i></div><div class="t" style="left:115px;top:493px;height:24px;line-height:24px"><i style="width:7px">5</i><i style="width:7px">6</i></div><div class="t" style="left:184px;top:493px;height:24px;line-height:24px"><i style="width:7px">2</i><i style="width:7px">6</i><i style="width:10px">W</i></div><div class="t" style="left:256px;top:493px;height:24px;line-height:24px"><i style="width:7px">5</i><i style="width:7px">3</i></div><div class="t" style="left:314px;top:493px;height:24px;line-height:24px"><i style="width:7px"><svg width="7" height="10" viewBox="0 -1707 1195 1707"><path transform="scale(1,-1)" d="M854 0H683V1250Q520 1110 171 990V1160Q520 1300 700 1536H854Z"/></svg></i><i style="width:7px">3</i><i style="width:7px">5</i></div><div class="t" style="left:372px;top:493px;height:24px;line-height:24px"><i style="width:7px">4</i><i style="width:7px">7</i><i style="width:3px">&nbsp;</i><i style="width:10px">½</i></div><div class="t" style="left:436px;top:493px;height:24px;line-height:24px"><i style="width:7px"><svg width="7" height="10" viewBox="0 -1707 1195 1707"><path transform="scale(1,-1)" d="M854 0H683V1250Q520 1110 171 990V1160Q520 1300 700 1536H854Z"/></svg></i><i style="width:7px">2</i><i style="width:7px"><svg width="7" height="10" viewBox="0 -1707 1195 1707"><path transform="scale(1,-1)" d="M854 0H683V1250Q520 1110 171 990V1160Q520 1300 700 1536H854Z"/></svg></i></div><div class="t" style="left:494px;top:493px;height:24px;line-height:24px"><i style="width:7px">5</i><i style="width:7px">5</i><i style="width:3px">&nbsp;</i><i style="width:10px">½</i></div><div class="t" style="left:558px;top:493px;height:24px;line-height:24px"><i style="width:7px"><svg width="7" height="10" viewBox="0 -1707 1195 1707"><path transform="scale(1,-1)" d="M854 0H683V1250Q520 1110 171 990V1160Q520 1300 700 1536H854Z"/></svg></i><i style="width:7px">4</i><i style="width:7px"><svg width="7" height="10" viewBox="0 -1707 1195 1707"><path transform="scale(1,-1)" d="M854 0H683V1250Q520 1110 171 990V1160Q520 1300 700 1536H854Z"/></svg></i></div><div class="t" style="left:622px;top:493px;height:24px;line-height:24px"><i style="width:7px">6</i><i style="width:7px"><svg width="7" height="10" viewBox="0 -1707 1195 1707"><path transform="scale(1,-1)" d="M854 0H683V1250Q520 1110 171 990V1160Q520 1300 700 1536H854Z"/></svg></i></div><div class="t" style="left:680px;top:493px;height:24px;line-height:24px"><i style="width:7px"><svg width="7" height="10" viewBox="0 -1707 1195 1707"><path transform="scale(1,-1)" d="M854 0H683V1250Q520 1110 171 990V1160Q520 1300 700 1536H854Z"/></svg></i><i style="width:7px">5</i><i style="width:7px">5</i></div>
</body></html>
